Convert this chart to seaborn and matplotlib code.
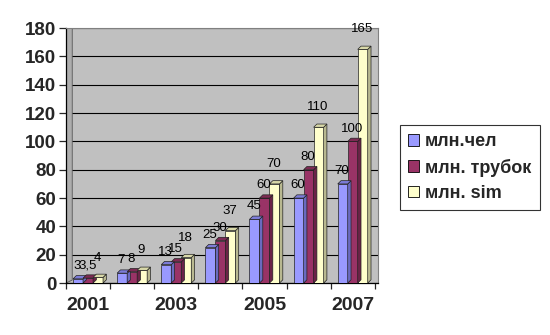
import matplotlib
matplotlib.use("Agg")
import matplotlib.pyplot as plt
from matplotlib.patches import Polygon, Patch
import numpy as np
import pandas as pd
import seaborn as sns

# Subscriber growth data, 2001-2007
years = ["2001", "2002", "2003", "2004", "2005", "2006", "2007"]
people = [3, 7, 13, 25, 45, 60, 70]          # млн.чел
handsets = [3.5, 8, 15, 30, 60, 80, 100]     # млн. трубок
sims = [4, 9, 18, 37, 70, 110, 165]          # млн. sim
series_names = ["млн.чел", "млн. трубок", "млн. sim"]
shown_years = ["2001", "2003", "2005", "2007"]

front_colors = ["#9999FF", "#993366", "#FFFFCC"]
side_colors = ["#6A6AC0", "#6B2347", "#B8B890"]
top_colors = ["#7C7CD8", "#7D2A53", "#D8D8A8"]

sns.set_style("white")
plt.rcParams["font.family"] = ["Liberation Sans", "DejaVu Sans"]

df = pd.DataFrame({
    "year": years * 3,
    "series": np.repeat(series_names, len(years)),
    "value": people + handsets + sims,
})

fig = plt.figure(figsize=(5.5, 3.35), dpi=100)
ax = fig.add_axes([0.12, 0.155, 0.567, 0.761])
ax.set_facecolor("#C0C0C0")

sns.barplot(data=df, x="year", y="value", hue="series", hue_order=series_names,
            order=years, palette=front_colors, saturation=1, width=0.68,
            edgecolor="#222222", linewidth=0.5, legend=False, ax=ax, zorder=3)

ax.set_ylim(0, 180)
ax.set_xlim(-0.5, 6.57)

# left side wall of the chart box
ax.add_patch(Polygon([(0, 0), (0.02, 0.012), (0.02, 1), (0, 1)], closed=True,
                     transform=ax.transAxes, facecolor="#ADADAD",
                     edgecolor="#555555", linewidth=0.6, zorder=1))

# horizontal gridlines
ax.yaxis.grid(True, color="black", linewidth=0.8, zorder=2)
ax.set_axisbelow(True)

# depth faces of each column, plus value labels
dx, dy = 0.075, 2.3
value_sets = [people, handsets, sims]
label_pad = [3, 3, 8]
for k, cont in enumerate(ax.containers):
    for bar in cont:
        x0 = bar.get_x()
        w = bar.get_width()
        h = bar.get_height()
        side = Polygon([(x0 + w, 0), (x0 + w + dx, dy), (x0 + w + dx, h + dy), (x0 + w, h)],
                       closed=True, facecolor=side_colors[k], edgecolor="#222222",
                       linewidth=0.5, zorder=3)
        top = Polygon([(x0, h), (x0 + dx, h + dy), (x0 + w + dx, h + dy), (x0 + w, h)],
                      closed=True, facecolor=top_colors[k], edgecolor="#222222",
                      linewidth=0.5, zorder=3)
        ax.add_patch(side)
        ax.add_patch(top)
    labels = [f"{v:g}".replace(".", ",") for v in value_sets[k]]
    anns = ax.bar_label(cont, labels=labels, padding=label_pad[k] + 2, fontsize=9.5,
                        color="black", zorder=4)
    for a in anns:
        a.xyann = (-0.5, label_pad[k] + 2)

# axes styling
for s in ["top", "right"]:
    ax.spines[s].set_color("#808080")
    ax.spines[s].set_linewidth(0.8)
for s in ["left", "bottom"]:
    ax.spines[s].set_color("black")
    ax.spines[s].set_linewidth(0.9)

ax.set_yticks(np.arange(0, 181, 20))
ax.tick_params(axis="y", which="major", length=5, width=0.9, direction="out",
               labelsize=13.5, pad=2, left=True)
for t in ax.get_yticklabels():
    t.set_fontweight("bold")

ax.set_xticks([years.index(y) for y in shown_years])
ax.set_xticklabels(shown_years, fontsize=14, fontweight="bold")
ax.set_xticks(np.arange(-0.5, 7, 1.0), minor=True)
ax.tick_params(axis="x", which="major", length=0, pad=10)
ax.tick_params(axis="x", which="minor", length=4, width=0.9, direction="out", bottom=True)
ax.set_xlabel("")
ax.set_ylabel("")

handles = [Patch(facecolor=c, edgecolor="black", linewidth=0.6) for c in front_colors]
leg = fig.legend(handles, series_names, loc="center left",
                 bbox_to_anchor=(0.727, 0.5), frameon=True, fancybox=False,
                 prop={"family": ["Liberation Sans"], "weight": "bold", "size": 13},
                 handlelength=0.6, handleheight=0.6, handletextpad=0.35,
                 labelspacing=0.45, borderpad=0.45, borderaxespad=0)
leg.get_frame().set_edgecolor("black")
leg.get_frame().set_linewidth(0.8)

fig.savefig("out.png", dpi=100, facecolor="white")
